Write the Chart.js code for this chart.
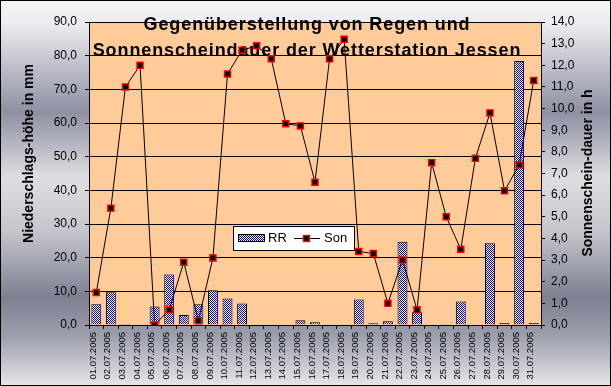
<!DOCTYPE html>
<html><head><meta charset="utf-8">
<script src="https://cdn.jsdelivr.net/npm/chart.js@4/dist/chart.umd.min.js"></script>
<style>html,body{margin:0;padding:0;background:#fff}#wrap{width:611px;height:386px}</style>
</head><body><div id="wrap"><canvas id="c" width="611" height="386"></canvas></div>
<script>
const categories = ['01.07.2005','02.07.2005','03.07.2005','04.07.2005','05.07.2005','06.07.2005','07.07.2005','08.07.2005','09.07.2005','10.07.2005','11.07.2005','12.07.2005','13.07.2005','14.07.2005','15.07.2005','16.07.2005','17.07.2005','18.07.2005','19.07.2005','20.07.2005','21.07.2005','22.07.2005','23.07.2005','24.07.2005','25.07.2005','26.07.2005','27.07.2005','28.07.2005','29.07.2005','30.07.2005','31.07.2005'];
const rainMm = [6.2, 9.7, 0.3, 0, 5.5, 15.0, 3.0, 6.2, 10.3, 7.9, 6.4, 0, 0, 0, 1.4, 0.8, 0, 0, 7.6, 0.5, 1.1, 24.7, 3.8, 0, 0.2, 7.0, 0, 24.3, 0.6, 78.4, 0.6];
const sunHours = [1.5, 5.4, 11.0, 12.0, 0.0, 0.7, 2.9, 0.2, 3.1, 11.6, 12.7, 12.9, 12.3, 9.3, 9.2, 6.6, 12.3, 13.2, 3.4, 3.3, 1.0, 3.0, 0.7, 7.5, 5.0, 3.5, 7.7, 9.8, 6.2, 7.4, 11.3];
const seriesNames = ['RR', 'Son'];
const titleLines = ['Gegenüberstellung von Regen und', 'Sonnenscheindauer der Wetterstation Jessen'];
const leftAxisTitle = 'Niederschlags-höhe in mm';
const rightAxisTitle = 'Sonnenschein-dauer in h';
const leftRange = [0, 90, 10];
const rightRange = [0, 14, 1];

const FONT = '"Liberation Sans", Arial, sans-serif';
const canvas = document.getElementById('c');
const ctx = canvas.getContext('2d');

const pc = document.createElement('canvas'); pc.width = 2; pc.height = 2;
const px = pc.getContext('2d');
px.fillStyle = '#ffffff'; px.fillRect(0, 0, 2, 2);
px.fillStyle = '#0000ff'; px.fillRect(0, 0, 1, 1); px.fillRect(1, 1, 1, 1);
const checker = ctx.createPattern(pc, 'repeat');

const fmt = v => Number(v).toFixed(1).replace('.', ',');

const bgPlugin = {
  id: 'bg',
  beforeDraw(chart) {
    const c = chart.ctx, W = chart.width, H = chart.height, a = chart.chartArea;
    const g = c.createLinearGradient(0, 0, 0, H);
    g.addColorStop(0, '#f6f6f8');
    g.addColorStop(0.06, '#ececf0');
    g.addColorStop(0.29, '#8e90a2');
    g.addColorStop(0.46, '#dedee2');
    g.addColorStop(0.60, '#c4c4cc');
    g.addColorStop(0.77, '#7e8092');
    g.addColorStop(0.87, '#9c9eac');
    g.addColorStop(1, '#e6e6ea');
    c.save();
    c.fillStyle = g; c.fillRect(0, 0, W, H);
    c.fillStyle = '#ffcc99';
    c.fillRect(a.left, a.top, a.right - a.left, a.bottom - a.top);
    c.restore();
  },
  beforeDatasetsDraw(chart) {
    const c = chart.ctx;
    c.save();
    c.fillStyle = '#000';
    c.font = 'bold 18px ' + FONT;
    c.textAlign = 'center';
    c.textBaseline = 'alphabetic';
    try { c.letterSpacing = '0.9px'; } catch (e) {}
    c.fillText(titleLines[0], 307, 29.5);
    c.fillText(titleLines[1], 307, 55.5);
    c.restore();
  },
  afterDraw(chart) {
    const c = chart.ctx, W = chart.width, H = chart.height;
    c.save();
    // axis titles
    c.fillStyle = '#000';
    c.font = 'bold 14px ' + FONT;
    c.textAlign = 'center';
    c.textBaseline = 'middle';
    c.translate(29, 153.5); c.rotate(-Math.PI / 2);
    c.fillText(leftAxisTitle, 0, 0);
    c.setTransform(1, 0, 0, 1, 0, 0);
    c.translate(588, 173); c.rotate(-Math.PI / 2);
    c.fillText(rightAxisTitle, 0, 0);
    c.setTransform(1, 0, 0, 1, 0, 0);
    // legend
    const lx = 233.5, ly = 226.5, lw = 121, lh = 24;
    c.fillStyle = '#fff'; c.fillRect(lx, ly, lw, lh);
    c.strokeStyle = '#000'; c.lineWidth = 1; c.strokeRect(lx, ly, lw, lh);
    const bar = chart.data.datasets.find(d => d.type === 'bar');
    const line = chart.data.datasets.find(d => d.type === 'line');
    c.fillStyle = bar.backgroundColor; c.fillRect(238.5, 234.5, 26, 7);
    c.strokeStyle = '#000'; c.strokeRect(238.5, 234.5, 26, 7);
    c.fillStyle = '#000'; c.font = '13px ' + FONT; c.textAlign = 'left'; c.textBaseline = 'middle';
    c.fillText(bar.label, 268, 238.5);
    c.beginPath(); c.moveTo(294, 238.5); c.lineTo(320, 238.5); c.strokeStyle = line.borderColor; c.lineWidth = 1; c.stroke();
    c.fillStyle = line.pointBackgroundColor; c.fillRect(303.5, 235.5, 6, 6);
    c.strokeStyle = line.pointBorderColor; c.lineWidth = 1.4; c.strokeRect(303.5, 235.5, 6, 6);
    c.fillStyle = '#000';
    c.fillText(line.label, 324, 238.5);
    // outer border
    c.strokeStyle = '#000'; c.lineWidth = 1; c.strokeRect(0.5, 0.5, W - 1, H - 1);
    c.restore();
  }
};

new Chart(canvas, {
  data: {
    labels: categories,
    datasets: [
      {
        type: 'line', label: seriesNames[1], data: sunHours, yAxisID: 'y1', order: 0,
        borderColor: '#000', borderWidth: 1, tension: 0,
        pointStyle: 'rect', pointRadius: 4.3, pointBorderWidth: 1.4,
        pointBackgroundColor: '#000', pointBorderColor: '#ff0000'
      },
      {
        type: 'bar', label: seriesNames[0], data: rainMm, yAxisID: 'y', order: 1,
        backgroundColor: checker, borderColor: '#000', borderWidth: 1,
        categoryPercentage: 1, barPercentage: 0.68
      }
    ]
  },
  options: {
    responsive: false, animation: false, devicePixelRatio: 1,
    layout: { padding: { left: 0, right: 0, top: 22, bottom: 0 } },
    plugins: { legend: { display: false }, title: { display: false }, tooltip: { enabled: false } },
    scales: {
      x: {
        type: 'category', offset: true,
        grid: { offset: true, drawOnChartArea: false, drawTicks: true, tickLength: 4, color: '#000' },
        border: { display: true, color: '#000', width: 1 },
        ticks: { autoSkip: false, minRotation: 90, maxRotation: 90, color: '#000', padding: 3, labelOffset: -3,
                 font: { family: FONT, size: 9.5 } },
        afterFit(s) { s.height = 61; }
      },
      y: {
        position: 'left', min: leftRange[0], max: leftRange[1],
        grid: { color: '#000', lineWidth: 1, tickLength: 4 },
        border: { display: true, color: '#000', width: 1 },
        ticks: { stepSize: leftRange[2], color: '#000', padding: 8, font: { family: FONT, size: 12 }, callback: v => fmt(v) },
        afterFit(s) { s.width = 89; }
      },
      y1: {
        position: 'right', min: rightRange[0], max: rightRange[1],
        grid: { drawOnChartArea: false, color: '#000', tickLength: 4 },
        border: { display: true, color: '#000', width: 1 },
        ticks: { stepSize: rightRange[2], color: '#000', padding: 6, font: { family: FONT, size: 12 }, callback: v => fmt(v) },
        afterFit(s) { s.width = 70; }
      }
    }
  },
  plugins: [bgPlugin]
});
</script></body></html>
